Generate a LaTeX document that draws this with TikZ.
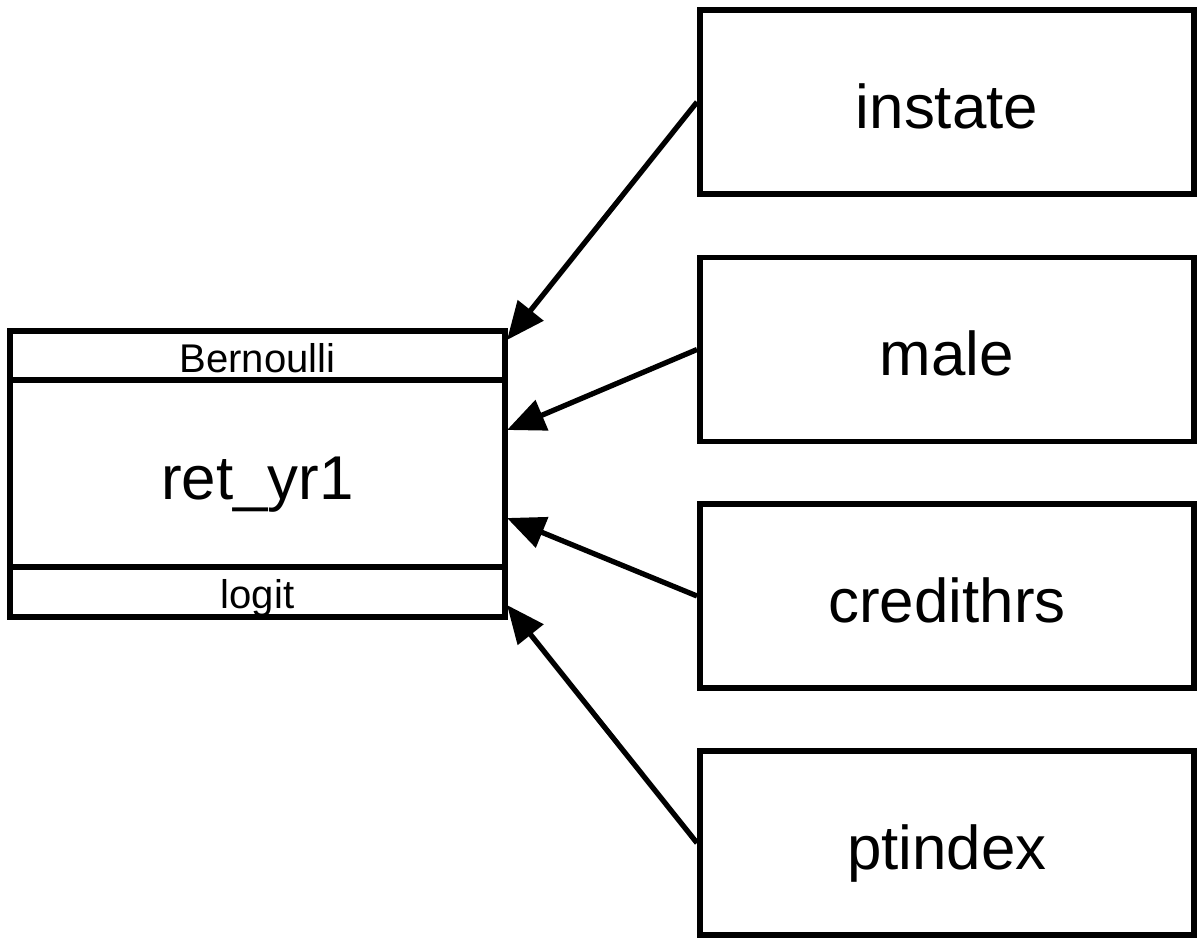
\documentclass[tikz,border=0pt]{standalone}
\usepackage{fontspec}
\setmainfont{Liberation Sans}
\usetikzlibrary{arrows.meta}
\begin{document}
\begin{tikzpicture}[x=1cm,y=-1cm,
        part/.style={draw,line width=1.7pt,minimum width=4.95cm,inner sep=0pt},
        small/.style={font=\fontsize{11.4}{13}\selectfont,
            text height=0.38cm,text depth=0.05cm},
        big/.style={font=\fontsize{17.6}{20}\selectfont,
            text height=0.6cm,text depth=0.08cm},
        box/.style={draw,line width=1.7pt,minimum width=4.94cm,
            minimum height=1.84cm,inner sep=0pt,big},
        link/.style={-{Triangle[length=3.8mm,width=3.2mm]},line width=1.5pt}]
\useasboundingbox (0,0) rectangle (12.01,9.44);

% outcome
\node[part,small,minimum height=0.49cm] (family) at (2.575,3.555) {Bernoulli};
\node[part,big,minimum height=1.87cm] (outcome) at (2.575,4.735) {ret\_yr1};
\node[part,small,minimum height=0.50cm] (link) at (2.575,5.92) {logit};

% predictors
\node[box] (instate) at (9.47,1.02) {instate};
\node[box] (male) at (9.47,3.495) {male};
\node[box] (credithrs) at (9.47,5.96) {credithrs};
\node[box] (ptindex) at (9.47,8.43) {ptindex};

\coordinate (in1) at (5.07,3.40);
\coordinate (in2) at (5.07,4.30);
\coordinate (in3) at (5.07,5.18);
\coordinate (in4) at (5.07,6.05);

\draw[link] (instate.west) -- (in1);
\draw[link] (male.west) -- (in2);
\draw[link] (credithrs.west) -- (in3);
\draw[link] (ptindex.west) -- (in4);
\end{tikzpicture}
\end{document}
